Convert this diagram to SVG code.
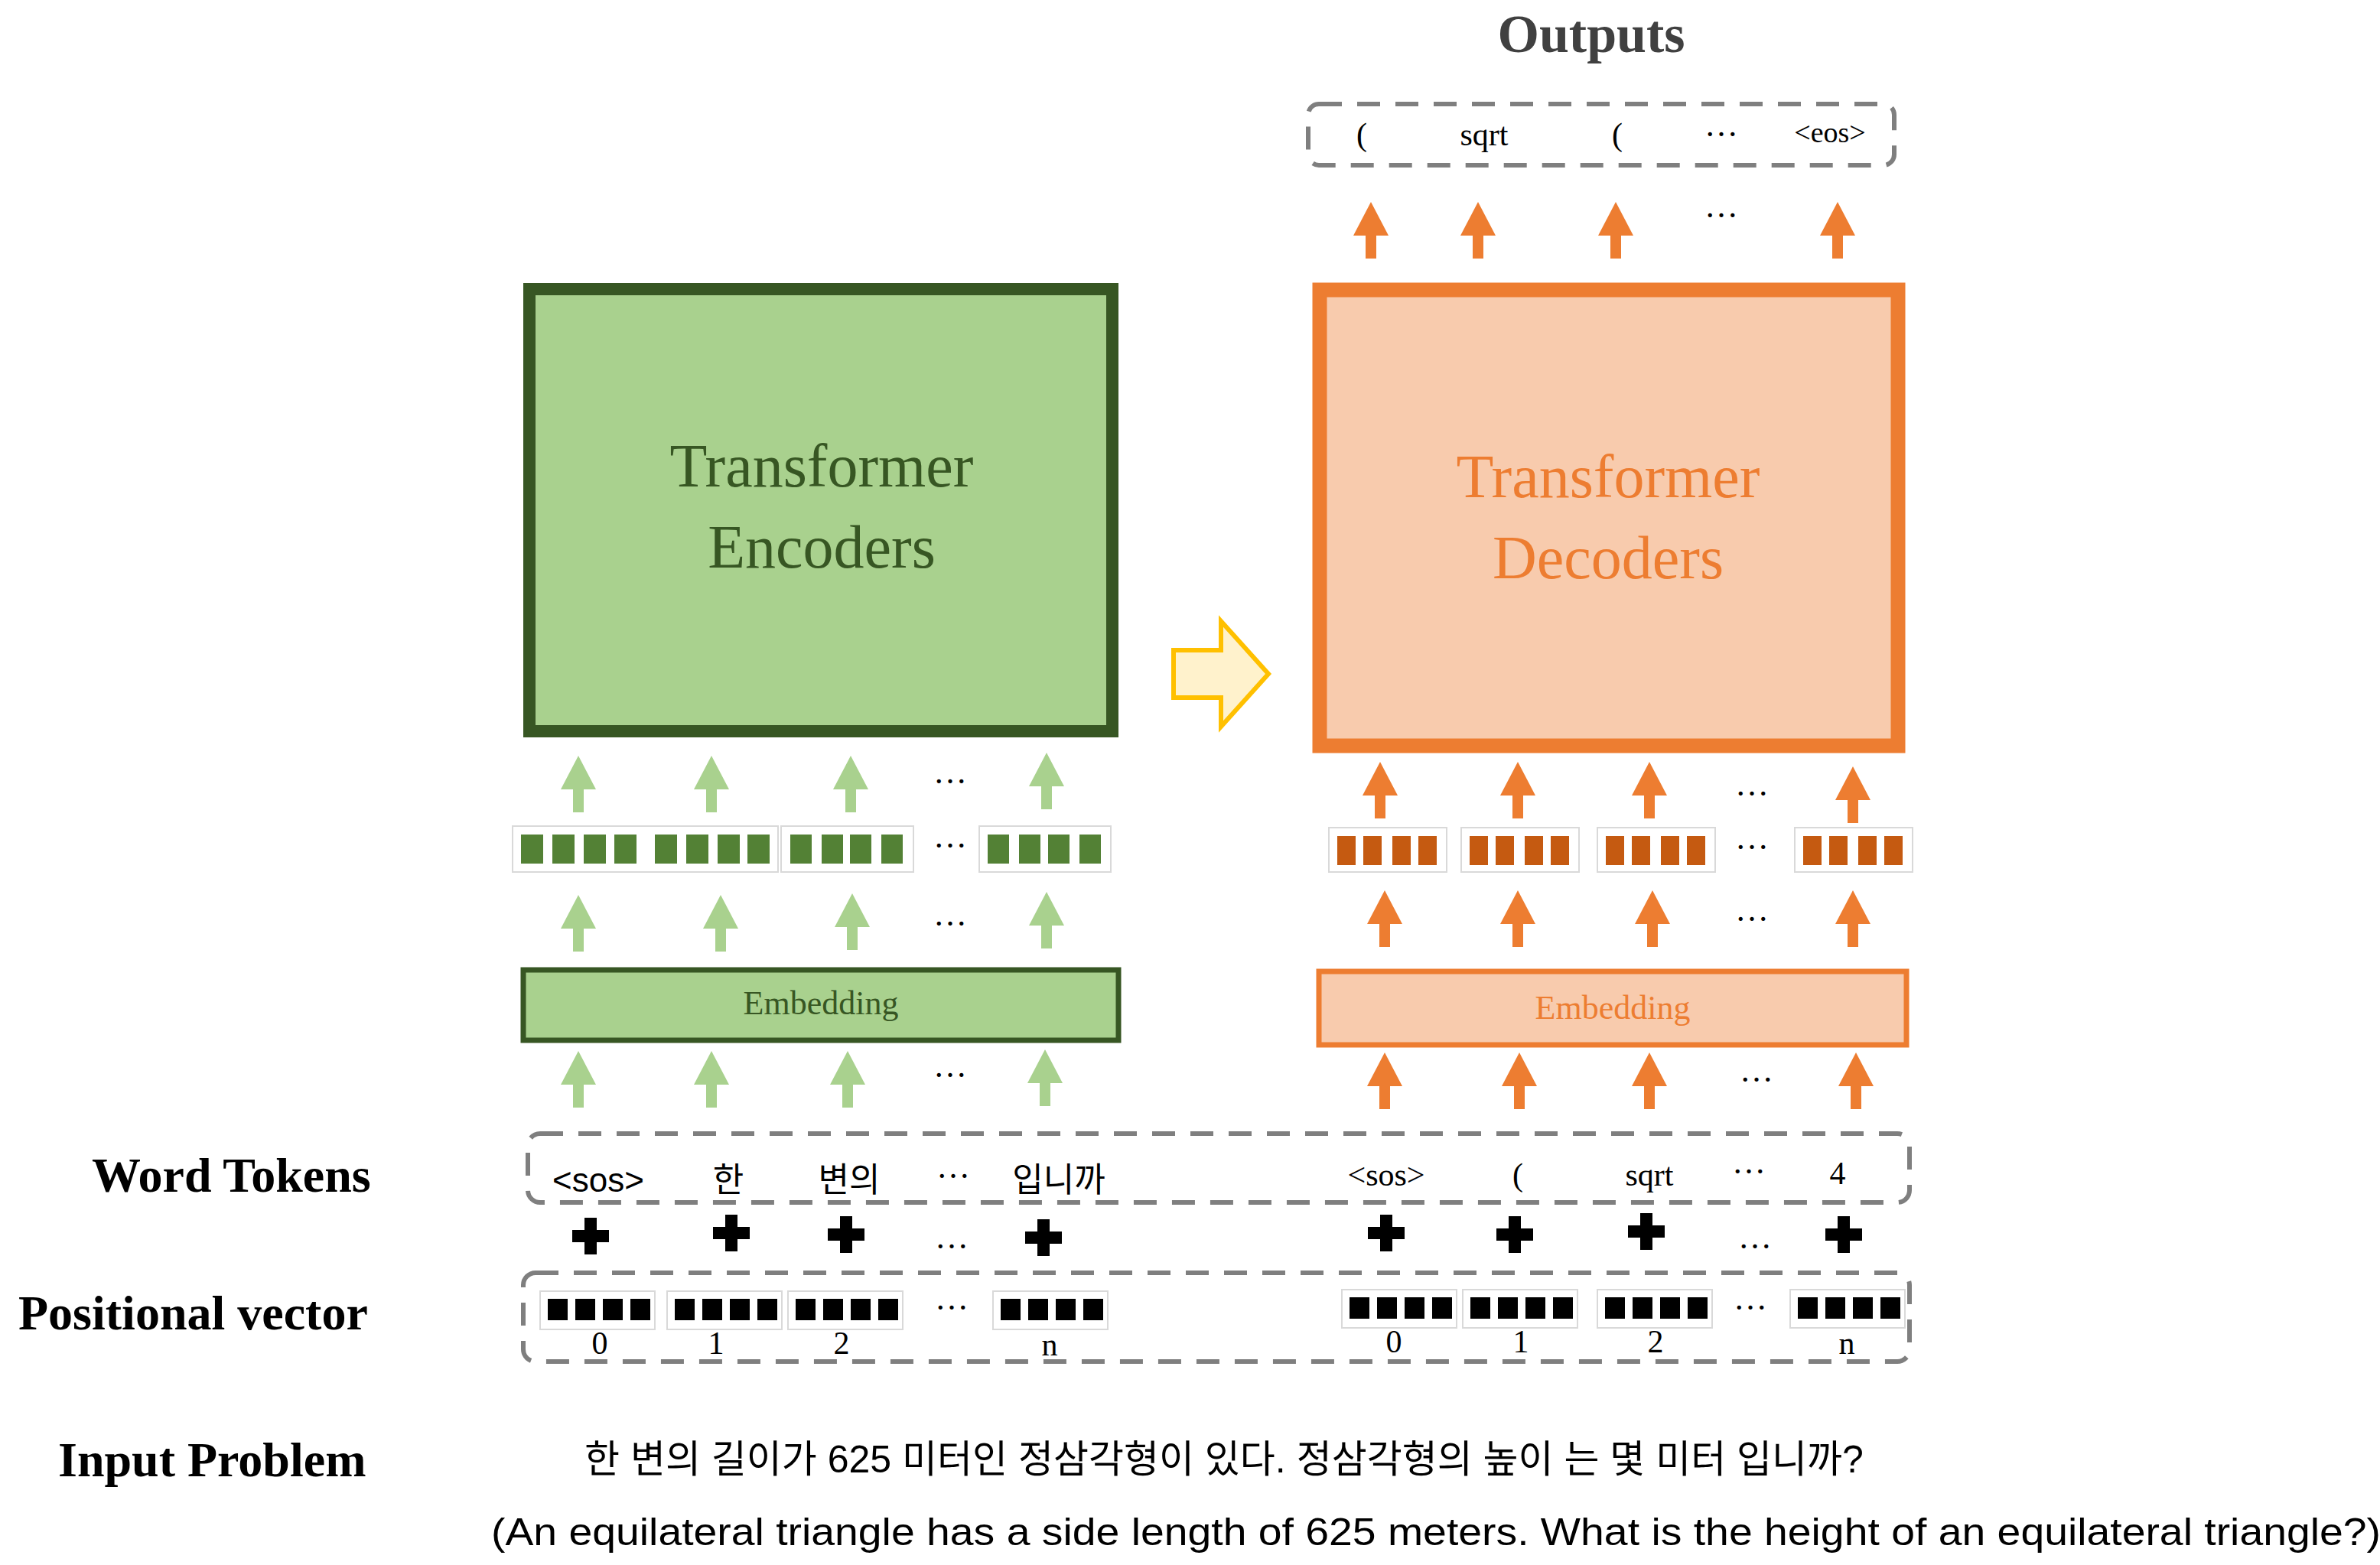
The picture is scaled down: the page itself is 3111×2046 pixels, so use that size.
<svg xmlns="http://www.w3.org/2000/svg" xmlns:xlink="http://www.w3.org/1999/xlink" width="3111" height="2046" viewBox="0 0 3111 2046">
<style>
.lbl{font-family:"Liberation Serif",serif;font-weight:bold;font-size:64px;fill:#000}
.ser{font-family:"Liberation Serif",serif;fill:#000}
.san{font-family:"Liberation Sans","Noto Sans CJK KR",sans-serif;fill:#000}
.dash{fill:none;stroke:#7f7f7f;stroke-width:6;stroke-dasharray:30 20}
.vb{fill:#fff;stroke:#d9d9d9;stroke-width:2}
.gs{fill:#538135}.os{fill:#C55A11}.bs{fill:#000}
.ga{fill:#A9D18E}.oa{fill:#ED7D31}
.dots{font-family:"Liberation Serif",serif;font-size:44px;fill:#000;text-anchor:middle}
</style>
<defs>
<path id="arr" d="M0,0 L23,44 L7,44 L7,74 L-7,74 L-7,44 L-23,44 Z"/>
<path id="plus" d="M-8,-24 H8 V-8 H24 V8 H8 V24 H-8 V8 H-24 V-8 H-8 Z"/>
<g id="g4"><rect class="vb" x="0" y="0" width="150" height="50"/><rect class="bs" x="10" y="10" width="26" height="28"/><rect class="bs" x="46" y="10" width="26" height="28"/><rect class="bs" x="82" y="10" width="26" height="28"/><rect class="bs" x="118" y="10" width="26" height="28"/></g>
<g id="o4"><rect class="vb" x="0" y="0" width="154" height="58"/><rect class="os" x="11" y="11" width="24" height="38"/><rect class="os" x="45" y="11" width="24" height="38"/><rect class="os" x="83" y="11" width="24" height="38"/><rect class="os" x="117" y="11" width="24" height="38"/></g>
</defs>

<g id="labels">
<text class="lbl" x="120" y="1558">Word Tokens</text>
<text class="lbl" x="24" y="1738">Positional vector</text>
<text class="lbl" x="76" y="1930">Input Problem</text>
<text class="san" x="1600" y="1925" font-size="50" text-anchor="middle" font-family="Noto Sans CJK KR">한 변의 길이가 625 미터인 정삼각형이 있다.  정삼각형의 높이 는 몇 미터 입니까?</text>
<text class="san" x="1877" y="2020" font-size="50" text-anchor="middle" textLength="2470" lengthAdjust="spacingAndGlyphs">(An equilateral triangle has a side length of 625 meters. What is the height of an equilateral triangle?)</text>
<text class="ser" x="2080" y="68" font-size="70" font-weight="bold" fill="#404040" text-anchor="middle" style="fill:#404040">Outputs</text>
</g>

<g id="encoder">
<rect x="692" y="378" width="762" height="578" fill="#A9D18E" stroke="#375623" stroke-width="16"/>
<text class="ser" x="1074" y="636" font-size="80" text-anchor="middle" style="fill:#375623">Transformer</text>
<text class="ser" x="1074" y="742" font-size="80" text-anchor="middle" style="fill:#375623">Encoders</text>
</g>
<g id="decoder">
<rect x="1725" y="379" width="756" height="596" fill="#F8CBAD" stroke="#ED7D31" stroke-width="19"/>
<text class="ser" x="2102" y="650" font-size="80" text-anchor="middle" style="fill:#ED7D31">Transformer</text>
<text class="ser" x="2102" y="756" font-size="80" text-anchor="middle" style="fill:#ED7D31">Decoders</text>
</g>
<g id="enc-embedding">
<rect x="684" y="1268" width="778" height="92" fill="#A9D18E" stroke="#375623" stroke-width="7"/>
<text class="ser" x="1073" y="1326" font-size="44" text-anchor="middle" style="fill:#375623">Embedding</text>
</g>
<g id="dec-embedding">
<rect x="1724" y="1270" width="768" height="96" fill="#F8CBAD" stroke="#ED7D31" stroke-width="7"/>
<text class="ser" x="2108" y="1332" font-size="44" text-anchor="middle" style="fill:#ED7D31">Embedding</text>
</g>
<g id="yellow-arrow">
<path d="M1534,850 H1596 V812 L1658,881 L1596,950 V912 H1534 Z" fill="#FFF2CC" stroke="#FFC000" stroke-width="6" stroke-linejoin="miter"/>
</g>

<g id="enc-vectors">
<rect class="vb" x="670" y="1080" width="347" height="60"/>
<rect class="gs" x="681" y="1091" width="29" height="38"/><rect class="gs" x="722" y="1091" width="29" height="38"/><rect class="gs" x="763" y="1091" width="29" height="38"/><rect class="gs" x="803" y="1091" width="29" height="38"/>
<rect class="gs" x="856" y="1091" width="29" height="38"/><rect class="gs" x="897" y="1091" width="29" height="38"/><rect class="gs" x="938" y="1091" width="29" height="38"/><rect class="gs" x="977" y="1091" width="29" height="38"/>
<rect class="vb" x="1021" y="1080" width="173" height="60"/>
<rect class="gs" x="1033" y="1091" width="28" height="38"/><rect class="gs" x="1074" y="1091" width="28" height="38"/><rect class="gs" x="1111" y="1091" width="28" height="38"/><rect class="gs" x="1152" y="1091" width="28" height="38"/>
<rect class="vb" x="1280" y="1080" width="172" height="60"/>
<rect class="gs" x="1291" y="1091" width="28" height="38"/><rect class="gs" x="1332" y="1091" width="28" height="38"/><rect class="gs" x="1370" y="1091" width="28" height="38"/><rect class="gs" x="1411" y="1091" width="28" height="38"/>
<text class="dots" x="1242" y="1108">…</text>
</g>
<g id="dec-vectors">
<use xlink:href="#o4" x="1737" y="1082"/><use xlink:href="#o4" x="1910" y="1082"/><use xlink:href="#o4" x="2088" y="1082"/><use xlink:href="#o4" x="2346" y="1082"/>
<text class="dots" x="2290" y="1110">…</text>
</g>

<g id="outputs">
<rect class="dash" x="1710" y="136" width="766" height="80" rx="14"/>
<text class="ser" font-size="42" text-anchor="middle" x="1780" y="190">(</text>
<text class="ser" font-size="42" text-anchor="middle" x="1940" y="190">sqrt</text>
<text class="ser" font-size="42" text-anchor="middle" x="2114" y="190">(</text>
<text class="dots" x="2250" y="178">…</text>
<text class="ser" font-size="38" text-anchor="middle" x="2392" y="186">&lt;eos&gt;</text>
</g>

<g id="word-tokens">
<rect class="dash" x="690" y="1482" width="1806" height="90" rx="16"/>
<text class="san" font-size="44" text-anchor="middle" x="782" y="1558">&lt;sos&gt;</text>
<text class="san" font-size="44" text-anchor="middle" x="952" y="1558">한</text>
<text class="san" font-size="44" text-anchor="middle" x="1110" y="1558">변의</text>
<text class="dots" x="1246" y="1540">…</text>
<text class="san" font-size="44" text-anchor="middle" x="1384" y="1558">입니까</text>
<text class="ser" font-size="42" text-anchor="middle" x="1812" y="1550">&lt;sos&gt;</text>
<text class="ser" font-size="42" text-anchor="middle" x="1984" y="1550">(</text>
<text class="ser" font-size="42" text-anchor="middle" x="2156" y="1550">sqrt</text>
<text class="dots" x="2286" y="1534">…</text>
<text class="ser" font-size="42" text-anchor="middle" x="2402" y="1548">4</text>
</g>

<g id="plus-row">
<use xlink:href="#plus" x="772" y="1616"/><use xlink:href="#plus" x="956" y="1612"/><use xlink:href="#plus" x="1106" y="1614"/><use xlink:href="#plus" x="1364" y="1618"/>
<text class="dots" x="1244" y="1632">…</text>
<use xlink:href="#plus" x="1812" y="1612"/><use xlink:href="#plus" x="1980" y="1614"/><use xlink:href="#plus" x="2152" y="1610"/><use xlink:href="#plus" x="2410" y="1614"/>
<text class="dots" x="2294" y="1632">…</text>
</g>

<g id="positional">
<rect class="dash" x="684" y="1664" width="1812" height="116" rx="16"/>
<use xlink:href="#g4" x="706" y="1688"/><use xlink:href="#g4" x="872" y="1688"/><use xlink:href="#g4" x="1030" y="1688"/><use xlink:href="#g4" x="1298" y="1688"/>
<use xlink:href="#g4" x="1754" y="1686"/><use xlink:href="#g4" x="1912" y="1686"/><use xlink:href="#g4" x="2088" y="1686"/><use xlink:href="#g4" x="2340" y="1686"/>
<text class="dots" x="1244" y="1712">…</text><text class="dots" x="2288" y="1712">…</text>
<g class="ser" font-size="42" text-anchor="middle">
<text x="784" y="1770">0</text><text x="936" y="1770">1</text><text x="1100" y="1770">2</text><text x="1372" y="1772">n</text>
<text x="1822" y="1768">0</text><text x="1988" y="1768">1</text><text x="2164" y="1768">2</text><text x="2414" y="1770">n</text>
</g>
</g>

<g id="connectors">
<g class="ga">
<use xlink:href="#arr" x="756" y="988"/><use xlink:href="#arr" x="930" y="988"/><use xlink:href="#arr" x="1112" y="988"/><use xlink:href="#arr" x="1368" y="984"/>
<use xlink:href="#arr" x="756" y="1170"/><use xlink:href="#arr" x="942" y="1170"/><use xlink:href="#arr" x="1114" y="1168"/><use xlink:href="#arr" x="1368" y="1166"/>
<use xlink:href="#arr" x="756" y="1374"/><use xlink:href="#arr" x="930" y="1374"/><use xlink:href="#arr" x="1108" y="1374"/><use xlink:href="#arr" x="1366" y="1372"/>
</g>
<g class="oa">
<use xlink:href="#arr" x="1792" y="264"/><use xlink:href="#arr" x="1932" y="264"/><use xlink:href="#arr" x="2112" y="264"/><use xlink:href="#arr" x="2402" y="264"/>
<use xlink:href="#arr" x="1804" y="996"/><use xlink:href="#arr" x="1984" y="996"/><use xlink:href="#arr" x="2156" y="996"/><use xlink:href="#arr" x="2422" y="1002"/>
<use xlink:href="#arr" x="1810" y="1164"/><use xlink:href="#arr" x="1984" y="1164"/><use xlink:href="#arr" x="2160" y="1164"/><use xlink:href="#arr" x="2422" y="1164"/>
<use xlink:href="#arr" x="1810" y="1376"/><use xlink:href="#arr" x="1986" y="1376"/><use xlink:href="#arr" x="2156" y="1376"/><use xlink:href="#arr" x="2426" y="1376"/>
</g>
<g class="dots"><text x="1242" y="1024">…</text><text x="1242" y="1210">…</text><text x="1242" y="1408">…</text>
<text x="2250" y="284">…</text><text x="2290" y="1040">…</text><text x="2290" y="1204">…</text><text x="2296" y="1414">…</text></g>
</g>
</svg>
